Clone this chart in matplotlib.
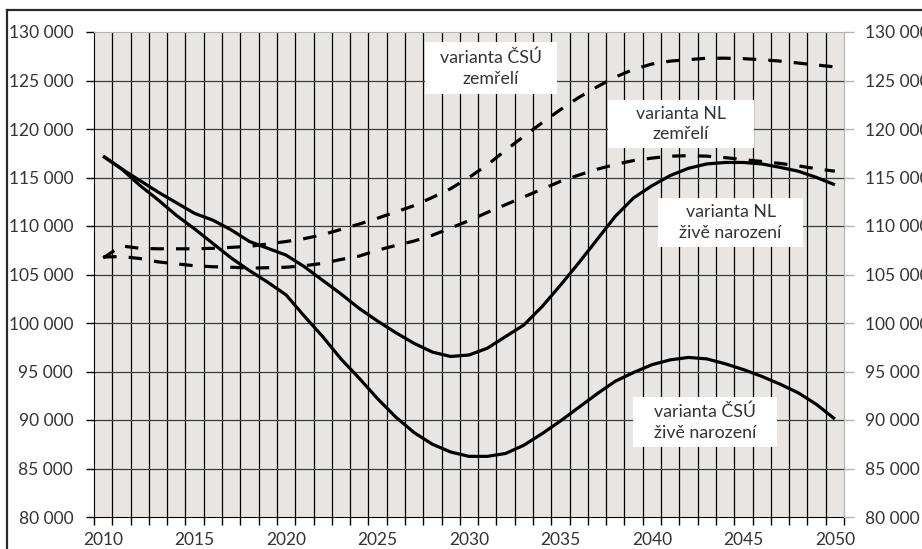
import matplotlib
matplotlib.use("Agg")
import matplotlib.pyplot as plt
from matplotlib.lines import Line2D
from matplotlib.patches import Rectangle
from matplotlib.ticker import FixedLocator, FuncFormatter

plt.rcParams['font.family'] = ['Lato', 'DejaVu Sans']

years = list(range(2010, 2051))

nl_births = [117200, 115900, 114700, 113500, 112400, 111300, 110600, 109600, 108400, 107700,
             107000, 105800, 104400, 103000, 101500, 100200, 99000, 97900, 97000, 96550,
             96700, 97400, 98600, 99800, 101700, 103900, 106200, 108600, 111000, 112900,
             114150, 115200, 115950, 116400, 116550, 116550, 116400, 116050, 115650, 115000,
             114250]

csu_births = [117200, 115900, 114200, 112700, 111100, 109700, 108200, 106700, 105400, 104200,
              102900, 100700, 98600, 96300, 94300, 92200, 90300, 88700, 87500, 86700,
              86250, 86250, 86550, 87400, 88600, 89900, 91300, 92700, 94000, 94900,
              95700, 96200, 96450, 96300, 95800, 95200, 94500, 93700, 92800, 91600,
              90100]

csu_deaths = [106700, 107950, 107700, 107650, 107650, 107650, 107700, 107800, 107900, 108150,
              108400, 108700, 109100, 109650, 110200, 110800, 111450, 112100, 112950, 113850,
              115000, 116300, 117800, 119250, 120650, 122000, 123250, 124350, 125350, 126150,
              126700, 127000, 127150, 127300, 127300, 127250, 127150, 127000, 126800, 126600,
              126400]

nl_deaths = [106800, 106850, 106650, 106300, 106100, 105900, 105800, 105750, 105650, 105700,
             105750, 105900, 106150, 106550, 106900, 107500, 108000, 108450, 109050, 109800,
             110550, 111400, 112200, 113000, 113800, 114600, 115250, 115850, 116350, 116750,
             117000, 117200, 117250, 117200, 117050, 116850, 116650, 116450, 116200, 115900,
             115650]

year_labels = [2010, 2015, 2020, 2025, 2030, 2035, 2040, 2045, 2050]
y_ticks = [80000, 85000, 90000, 95000, 100000, 105000, 110000, 115000, 120000, 125000, 130000]

label_texts = ["varianta ČSÚ\nzemřelí", "varianta NL\nzemřelí",
               "varianta NL\nživě narození", "varianta ČSÚ\nživě narození"]

# label box placement (centre x in years, centre y in values, width years, height values)
label_boxes = [(2031.2, 126290, 7.2, 5360),
               (2041.6, 120520, 8.0, 4950),
               (2044.3, 110360, 7.9, 5050),
               (2042.9, 89790, 7.9, 5150)]

fig = plt.figure(figsize=(9.22, 5.49), dpi=100)
ax = fig.add_axes([94/922, 1-517/549, 750/922, 485/549])
ax.set_facecolor('#E8E5E2')
ax.set_xlim(2009.5, 2050.5)
ax.set_ylim(80000, 130000)

lw = 2.3
ax.plot(years, csu_deaths, color='black', lw=lw, ls=(0, (4.2, 3.8)), zorder=5)
ax.plot(years, nl_deaths, color='black', lw=lw, ls=(0, (4.2, 3.8)), zorder=5)
ax.plot(years, nl_births, color='black', lw=lw, zorder=5, solid_capstyle='butt')
ax.plot(years, csu_births, color='black', lw=lw, zorder=5, solid_capstyle='butt')

# grid
bounds = [y - 0.5 for y in years] + [2050.5]
ax.xaxis.set_minor_locator(FixedLocator(bounds))
ax.xaxis.set_major_locator(FixedLocator(year_labels))
ax.set_xticklabels([str(y) for y in year_labels])
ax.tick_params(axis='x', which='major', length=0, pad=11, labelsize=12.5, labelcolor='#333333')
ax.tick_params(axis='x', which='minor', length=6, width=1, color='black', direction='out')
for b in bounds[1:-1]:
    ax.axvline(b, color='black', lw=0.9, zorder=1)
for v in y_ticks[1:-1]:
    ax.axhline(v, color='#3c3c3c', lw=0.9, zorder=1)

fmt = FuncFormatter(lambda v, p: f"{int(v):,}".replace(",", " "))
ax.yaxis.set_major_locator(FixedLocator(y_ticks))
ax.yaxis.set_major_formatter(fmt)
ax.tick_params(axis='y', length=6, width=1, color='black', pad=9, labelsize=12.5, labelcolor='#333333')

ax.spines['left'].set_color('black')
ax.spines['bottom'].set_color('black')
ax.spines['top'].set_color('#b5b5b5')
ax.spines['right'].set_color('#b5b5b5')

ax2 = ax.twinx()
ax2.set_ylim(80000, 130000)
ax2.yaxis.set_major_locator(FixedLocator(y_ticks))
ax2.yaxis.set_major_formatter(fmt)
ax2.tick_params(axis='y', length=7, width=1, color='#b5b5b5', pad=8, labelsize=12.5, labelcolor='#333333')
for s in ['left', 'top', 'bottom']:
    ax2.spines[s].set_visible(False)
ax2.spines['right'].set_color('#b5b5b5')

for txt, (cx, cy, w, h) in zip(label_texts, label_boxes):
    ax.add_patch(Rectangle((cx - w/2, cy - h/2), w, h, facecolor='white', edgecolor='none', zorder=6))
    ax.text(cx, cy, txt, ha='center', va='center', fontsize=12.8, color='#333333',
            linespacing=1.35, zorder=7)

# outer frame of the chart area
fig.add_artist(Line2D([7/922, 7/922], [0, 1-10/549], color='#2a2a2a', lw=1.6, transform=fig.transFigure))
fig.add_artist(Line2D([7/922, 1], [1-10/549, 1-10/549], color='#2a2a2a', lw=1.6, transform=fig.transFigure))

fig.savefig('out.png', dpi=100)
